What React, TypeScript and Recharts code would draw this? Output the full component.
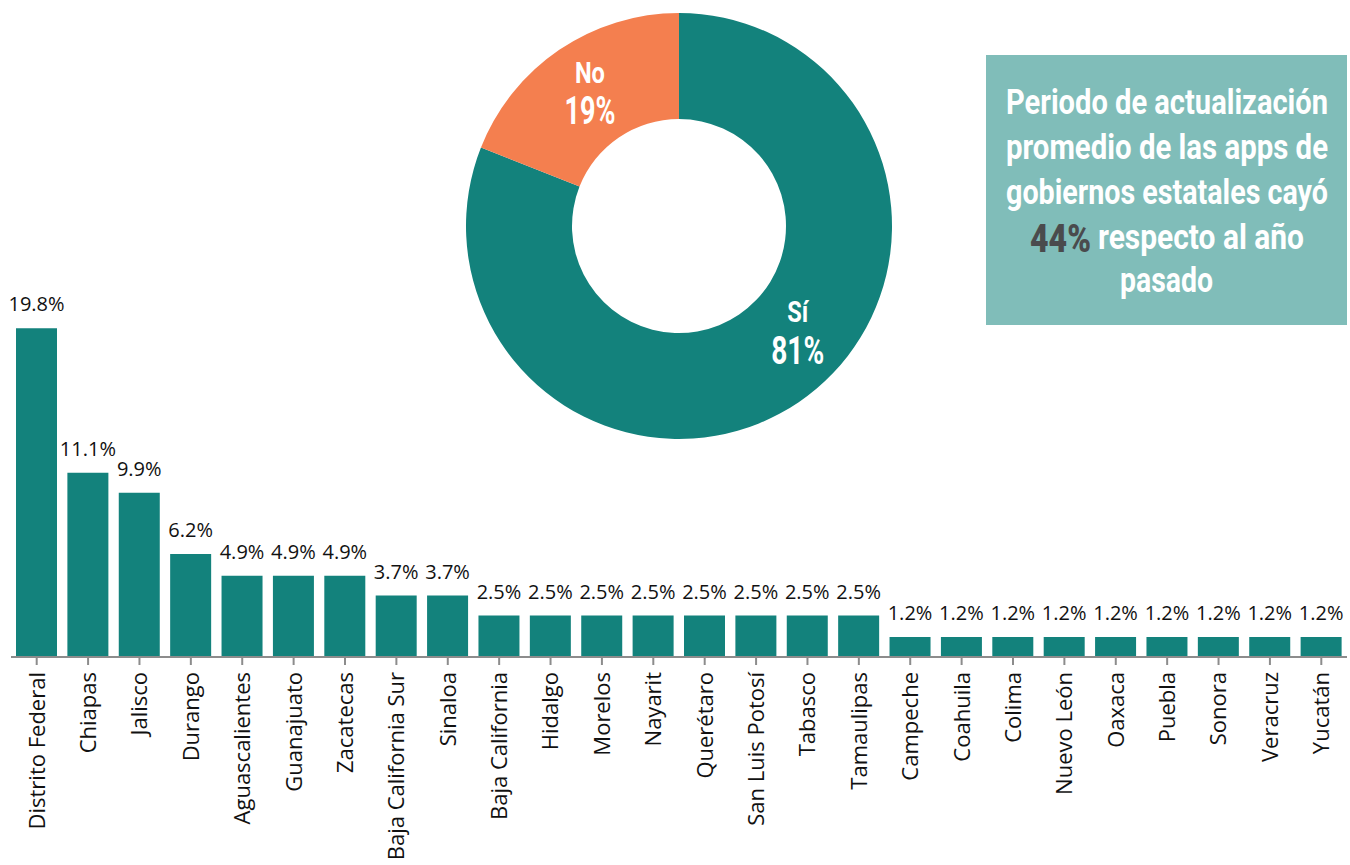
import React from 'react'
import { BarChart, Bar, XAxis, YAxis, LabelList, PieChart, Pie, Cell } from 'recharts'

const states = [
  'Distrito Federal', 'Chiapas', 'Jalisco', 'Durango', 'Aguascalientes', 'Guanajuato', 'Zacatecas',
  'Baja California Sur', 'Sinaloa', 'Baja California', 'Hidalgo', 'Morelos', 'Nayarit', 'Querétaro',
  'San Luis Potosí', 'Tabasco', 'Tamaulipas', 'Campeche', 'Coahuila', 'Colima', 'Nuevo León',
  'Oaxaca', 'Puebla', 'Sonora', 'Veracruz', 'Yucatán',
]
const shares = [
  19.8, 11.1, 9.9, 6.2, 4.9, 4.9, 4.9,
  3.7, 3.7, 2.5, 2.5, 2.5, 2.5, 2.5,
  2.5, 2.5, 2.5, 1.2, 1.2, 1.2, 1.2,
  1.2, 1.2, 1.2, 1.2, 1.2,
]

const answers = ['Sí', 'No']
const answerShares = [81, 19]

const headlineLines = [
  'Periodo de actualización',
  'promedio de las apps de',
  'gobiernos estatales cayó',
]
const headlineStat = '44%'
const headlineRest = ['respecto al año', 'pasado']

const TEAL = '#13827c'
const ORANGE = '#f47f4f'
const BOX = '#80bdb9'

const barData = states.map((name, i) => ({ name, value: shares[i] }))
const pieData = answers.map((name, i) => ({ name, value: answerShares[i] }))

const StateTick = (props: any) => {
  const { x, y, payload } = props
  return (
    <g transform={`translate(${x},${y})`}>
      <text
        transform="rotate(-90)"
        x={-5}
        y={0}
        dy="0.36em"
        textAnchor="end"
        fill="#111"
        fontSize={22}
        fontFamily="'Open Sans', sans-serif"
      >
        {payload.value}
      </text>
    </g>
  )
}

const condensed = "Roboto, 'Open Sans', sans-serif"

// donut label: name + percentage, white, squeezed to look condensed
const renderPieLabel = (props: any) => {
  const { cx, cy, midAngle, index, name, value } = props
  const RAD = Math.PI / 180
  const angle = index === 0 ? midAngle + 11.8 : midAngle - 0.6
  const r = index === 0 ? 165 : 161
  const px = cx + r * Math.cos(-angle * RAD)
  const py = cy + r * Math.sin(-angle * RAD)
  return (
    <g>
      <text
        x={px}
        y={index === 0 ? py - 19 : py - 9}
        textAnchor="middle"
        fill="#fff"
        fontFamily={condensed}
        fontWeight={700}
        fontSize={30}
        textLength={index === 0 ? 21 : 30}
        lengthAdjust="spacingAndGlyphs"
      >
        {name}
      </text>
      <text
        x={px}
        y={index === 0 ? py + 23 : py + 32}
        textAnchor="middle"
        fill="#fff"
        fontFamily={condensed}
        fontWeight={700}
        fontSize={38}
        textLength={index === 0 ? 53 : 51}
        lengthAdjust="spacingAndGlyphs"
      >
        {value}%
      </text>
    </g>
  )
}

export default function App() {
  return (
    <div style={{ position: 'absolute', left: 0, top: 0, width: 1350, height: 865, background: '#fff' }}>
      <div style={{ position: 'absolute', left: 0, top: 0 }}>
        <BarChart
          width={1350}
          height={865}
          data={barData}
          margin={{ top: 325, right: 3, bottom: 0, left: 11 }}
          barCategoryGap={5}
        >
          <YAxis hide domain={[0, 20]} />
          <XAxis
            dataKey="name"
            interval={0}
            height={208}
            tick={<StateTick />}
            tickSize={8}
            tickMargin={2}
            axisLine={{ stroke: '#8c8c8c', strokeWidth: 2 }}
            tickLine={{ stroke: '#8c8c8c', strokeWidth: 2 }}
          />
          <Bar dataKey="value" fill={TEAL} barSize={41} isAnimationActive={false}>
            <LabelList
              dataKey="value"
              position="top"
              offset={17}
              formatter={(v: any) => `${Number(v).toFixed(1)}%`}
              style={{ fill: '#111', fontSize: 20, fontFamily: "'Open Sans', sans-serif" }}
            />
          </Bar>
        </BarChart>
      </div>

      <div style={{ position: 'absolute', left: 459, top: 6 }}>
        <PieChart width={440} height={440} margin={{ top: 0, right: 0, bottom: 0, left: 0 }}>
          <Pie
            data={pieData}
            dataKey="value"
            nameKey="name"
            cx={220}
            cy={220}
            innerRadius={107}
            outerRadius={213}
            startAngle={90}
            endAngle={-270}
            stroke="none"
            label={renderPieLabel}
            labelLine={false}
            isAnimationActive={false}
          >
            <Cell fill={TEAL} />
            <Cell fill={ORANGE} />
          </Pie>
        </PieChart>
      </div>

      <div style={{ position: 'absolute', left: 986, top: 55, width: 361, height: 270, background: BOX }}>
        <svg width={361} height={270}>
          {headlineLines.map((line, i) => (
            <text
              key={line}
              x={20}
              y={59 + i * 45}
              fill="#fff"
              fontFamily={condensed}
              fontWeight={700}
              fontSize={35}
              textLength={322}
              lengthAdjust="spacingAndGlyphs"
            >
              {line}
            </text>
          ))}
          <text
            x={44}
            y={197}
            fill="#4a4b4d"
            fontFamily={condensed}
            fontWeight={900}
            fontSize={38}
            textLength={61}
            lengthAdjust="spacingAndGlyphs"
          >
            {headlineStat}
          </text>
          <text
            x={112}
            y={194}
            fill="#fff"
            fontFamily={condensed}
            fontWeight={700}
            fontSize={35}
            textLength={206}
            lengthAdjust="spacingAndGlyphs"
          >
            {headlineRest[0]}
          </text>
          <text
            x={134}
            y={237}
            fill="#fff"
            fontFamily={condensed}
            fontWeight={700}
            fontSize={35}
            textLength={93}
            lengthAdjust="spacingAndGlyphs"
          >
            {headlineRest[1]}
          </text>
        </svg>
      </div>
    </div>
  )
}
